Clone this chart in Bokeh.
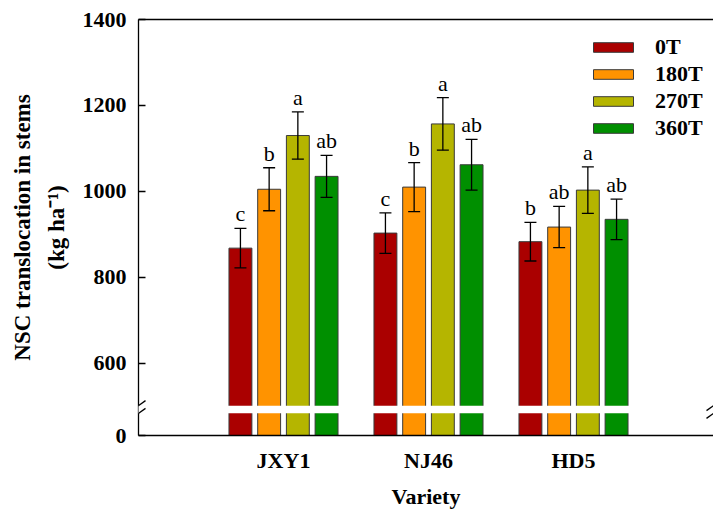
from bokeh.plotting import figure
from bokeh.models import (ColumnDataSource, Range1d, FixedTicker, LinearAxis, Whisker,
                          TeeHead, Arrow, PolyAnnotation, Legend, LegendItem)
from bokeh.core.properties import value
from bokeh.embed import file_html
from bokeh.resources import INLINE

# ---------------- data ----------------
varieties = ["JXY1", "NJ46", "HD5"]
treatments = ["0T", "180T", "270T", "360T"]
colors = ["#AA0000", "#FF9300", "#B5B500", "#008F00"]

nsc_0T = [868, 903, 883]
nsc_180T = [1005, 1010, 917]
nsc_270T = [1130, 1157, 1003]
nsc_360T = [1035, 1062, 935]

err_0T = [46, 47, 45]
err_180T = [50, 57, 48]
err_270T = [55, 61, 54]
err_360T = [49, 59, 47]

let_0T = ["c", "c", "b"]
let_180T = ["b", "b", "ab"]
let_270T = ["a", "a", "a"]
let_360T = ["ab", "ab", "ab"]

y_ticks = [0, 600, 800, 1000, 1200, 1400]

values = [nsc_0T, nsc_180T, nsc_270T, nsc_360T]
errors = [err_0T, err_180T, err_270T, err_360T]
letters = [let_0T, let_180T, let_270T, let_360T]

# ---------------- broken axis mapping ----------------
ZERO_POS = 432          # display position standing for 0
BREAK_LO, BREAK_HI = 483.5, 501.5


def disp(v):
    return ZERO_POS if v == 0 else v


FONT = "Liberation Serif"
W, H = 713, 513
ML, MT, MB = 138, 19, 78
PX_X = 145.0
frame_w = W - ML
frame_h = H - MT - MB
x_end = frame_w / PX_X
Y_TOP = 1400
PX_Y = frame_h / (Y_TOP - ZERO_POS)

p = figure(width=W, height=H, x_range=Range1d(0, x_end), y_range=Range1d(ZERO_POS, Y_TOP),
           output_backend="svg", toolbar_location=None,
           min_border_left=ML, min_border_right=0, min_border_top=MT, min_border_bottom=MB)
p.xgrid.visible = False
p.ygrid.visible = False
p.outline_line_color = None

pitch = 0.198
bar_w = 0.158

legend_items = []
for k, t in enumerate(treatments):
    xs = [i + 1 + (k - 1.5) * pitch for i in range(len(varieties))]
    top = values[k]
    err = errors[k]
    src = ColumnDataSource(dict(
        x=xs, top=top, upper=[a + b for a, b in zip(top, err)],
        lower=[a - b for a, b in zip(top, err)], lab=letters[k]))
    r = p.vbar(x="x", top="top", bottom=ZERO_POS, width=bar_w, source=src,
               fill_color=colors[k], line_color="#3a3a3a", line_width=1)
    legend_items.append(LegendItem(label=t, renderers=[r]))
    # white gap of the axis break
    p.vbar(x="x", top=BREAK_HI, bottom=BREAK_LO, width=bar_w * 1.15, source=src,
           fill_color="white", line_color=None)
    wh = Whisker(base="x", upper="upper", lower="lower", source=src,
                 line_color="black", line_width=1.3, level="annotation",
                 upper_head=TeeHead(size=12, line_color="black", line_width=1.3),
                 lower_head=TeeHead(size=12, line_color="black", line_width=1.3))
    p.add_layout(wh)
    p.text(x="x", y="upper", text="lab", source=src, text_align="center",
           text_baseline="bottom", y_offset=-2, text_font=value(FONT),
           text_font_size="22px", text_color="black")

# ---------------- axes ----------------
yax = p.yaxis[0]
yax.ticker = FixedTicker(ticks=[disp(v) for v in y_ticks])
yax.major_label_overrides = {disp(v): str(v) for v in y_ticks}
yax.major_tick_in = 7
yax.major_tick_out = 0
yax.minor_tick_line_color = None
yax.major_label_standoff = 12
yax.major_label_text_font = FONT
yax.major_label_text_font_style = "bold"
yax.major_label_text_font_size = "22px"
yax.major_label_text_color = "black"
yax.axis_line_color = "black"
yax.axis_line_width = 1.3
yax.major_tick_line_color = "black"
yax.major_tick_line_width = 1.3
yax.axis_label = "(kg ha\u207b\u00b9)"
yax.axis_label_standoff = 11
yax.axis_label_text_font = FONT
yax.axis_label_text_font_style = "bold"
yax.axis_label_text_font_size = "23px"
yax.axis_label_text_color = "black"

yax2 = LinearAxis(ticker=FixedTicker(ticks=[]), major_label_text_font_size="0px",
                  major_label_standoff=0, major_tick_in=0, major_tick_out=0,
                  axis_line_color=None, major_tick_line_color=None,
                  minor_tick_line_color=None,
                  axis_label="NSC translocation in stems", axis_label_standoff=6,
                  axis_label_text_font=FONT, axis_label_text_font_style="bold",
                  axis_label_text_font_size="23px", axis_label_text_color="black")
p.add_layout(yax2, "left")

xax = p.xaxis[0]
xax.ticker = FixedTicker(ticks=[i + 1 for i in range(len(varieties))])
xax.major_label_overrides = {i + 1: v for i, v in enumerate(varieties)}
xax.major_tick_line_color = None
xax.minor_tick_line_color = None
xax.major_tick_out = 0
xax.major_tick_in = 0
xax.major_label_standoff = 12
xax.major_label_text_font = FONT
xax.major_label_text_font_style = "bold"
xax.major_label_text_font_size = "22px"
xax.major_label_text_color = "black"
xax.axis_line_color = "black"
xax.axis_line_width = 1.3
xax.axis_label = "Variety"
xax.axis_label_text_font = FONT
xax.axis_label_text_font_style = "bold"
xax.axis_label_text_font_size = "22px"
xax.axis_label_text_color = "black"
xax.axis_label_standoff = 8

top_ax = LinearAxis(ticker=FixedTicker(ticks=[]), major_label_text_font_size="0px",
                    axis_line_color="black", axis_line_width=1.3,
                    major_tick_line_color=None, minor_tick_line_color=None)
p.add_layout(top_ax, "above")

# break marks on both sides
dx, dy = 7 / PX_X, 5 / PX_Y
for x0, place in [(0, "left"), (x_end, "center")]:
    p.add_layout(PolyAnnotation(
        xs=[x0 - dx, x0 + dx, x0 + dx, x0 - dx],
        ys=[BREAK_HI - dy, BREAK_HI + dy, BREAK_LO + dy, BREAK_LO - dy],
        fill_color="white", fill_alpha=1, line_color=None, level="annotation"), place)
    for yb in [BREAK_HI, BREAK_LO]:
        p.add_layout(Arrow(x_start=x0 - dx, y_start=yb - dy, x_end=x0 + dx, y_end=yb + dy,
                           start=None, end=None, line_color="black", line_width=1.3), place)

legend = Legend(items=legend_items, location=(450, 294), orientation="vertical",
                glyph_width=50, glyph_height=12, label_standoff=17, label_height=22,
                spacing=1, padding=0, margin=0, border_line_color=None,
                background_fill_alpha=0, label_text_font=FONT, label_text_color="black",
                label_text_font_style="bold", label_text_font_size="22px")
p.add_layout(legend)

open("out.html", "w").write(file_html(p, INLINE))
